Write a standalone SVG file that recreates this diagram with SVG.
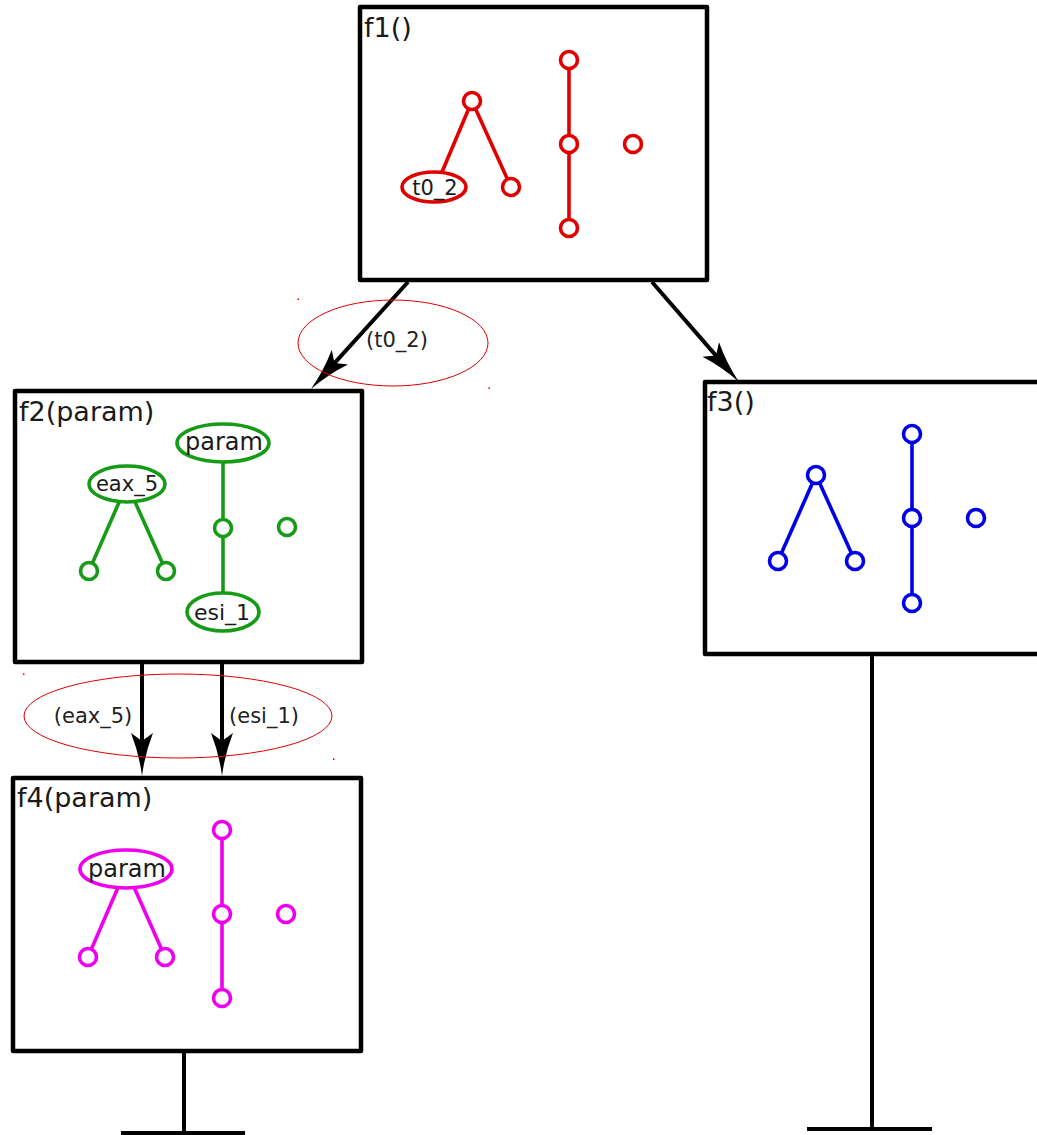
<svg xmlns="http://www.w3.org/2000/svg" width="1037" height="1135" viewBox="0 0 1037 1135">
  <style>
    .box { fill: #ffffff; stroke: #000000; stroke-width: 4.5; stroke-linejoin: round; }
    .title { font-family: "DejaVu Sans", sans-serif; font-size: 27px; fill: #1a1a1a; }
    .lbl { font-family: "DejaVu Sans", sans-serif; fill: #1a1a1a; text-anchor: middle; }
    .elbl { font-family: "DejaVu Sans", sans-serif; font-size: 21px; fill: #222222; text-anchor: middle; }
    .conn { stroke: #000000; stroke-width: 4; fill: none; }
    .stem { stroke: #000000; stroke-width: 4; fill: none; }
    .hl { fill: none; stroke: #e00000; stroke-width: 1; }
    .red { stroke: #e00000; }
    .grn { stroke: #169b16; }
    .blu { stroke: #0000e6; }
    .mag { stroke: #ee00ee; }
    .edge { stroke-width: 3.6; fill: none; }
    .v { fill: #ffffff; stroke-width: 3.6; }
  </style>
  <defs>
    <marker id="dart" viewBox="0 -12 44 24" markerWidth="44" markerHeight="24" refX="8" refY="0" orient="auto" markerUnits="userSpaceOnUse">
      <path d="M43,0 Q20,-3 0,-11 L8,0 L0,11 Q20,3 43,0 Z" fill="#000000"/>
    </marker>
  </defs>

  <!-- connectors between function boxes -->
  <g id="connectors">
    <line class="conn" x1="408" y1="282" x2="334.5" y2="363.1" marker-end="url(#dart)"/>
    <line class="conn" x1="652" y1="282" x2="716" y2="355.6" marker-end="url(#dart)"/>
    <line class="conn" x1="142" y1="662" x2="142" y2="741" marker-end="url(#dart)"/>
    <line class="conn" x1="222" y1="662" x2="222" y2="741" marker-end="url(#dart)"/>
    <ellipse class="hl" cx="393" cy="343" rx="95" ry="43"/>
    <text class="elbl" x="397" y="347">(t0_2)</text>
    <ellipse class="hl" cx="178" cy="716" rx="154" ry="42"/>
    <text class="elbl" x="93" y="723">(eax_5)</text>
    <text class="elbl" x="264" y="723">(esi_1)</text>
    <rect x="297.5" y="298.5" width="1.5" height="1.5" fill="#e00000"/>
    <rect x="488.5" y="387.5" width="1.5" height="1.5" fill="#e00000"/>
    <rect x="23" y="673.5" width="1.5" height="1.5" fill="#e00000"/>
    <rect x="333" y="758.5" width="1.5" height="1.5" fill="#e00000"/>
    <!-- terminal stems -->
    <line class="stem" x1="184" y1="1051" x2="184" y2="1133"/>
    <line class="stem" x1="121" y1="1133" x2="245" y2="1133"/>
    <line class="stem" x1="872" y1="654" x2="872" y2="1129"/>
    <line class="stem" x1="807" y1="1129" x2="932" y2="1129"/>
  </g>

  <!-- f1() -->
  <g id="f1">
    <rect class="box" x="360" y="7" width="347" height="273"/>
    <text class="title" x="364" y="37">f1()</text>
    <g class="red">
      <line class="edge" x1="472" y1="101" x2="442" y2="172"/>
      <line class="edge" x1="472" y1="101" x2="511" y2="187"/>
      <line class="edge" x1="569" y1="60" x2="569" y2="228"/>
      <circle class="v" cx="472" cy="101" r="8.5"/>
      <ellipse class="v" cx="434" cy="187" rx="32" ry="15"/>
      <circle class="v" cx="511" cy="187" r="8.5"/>
      <circle class="v" cx="569" cy="60" r="8.5"/>
      <circle class="v" cx="569" cy="144" r="8.5"/>
      <circle class="v" cx="569" cy="228" r="8.5"/>
      <circle class="v" cx="633" cy="144" r="8.5"/>
    </g>
    <text class="lbl" x="435" y="195" font-size="21">t0_2</text>
  </g>

  <!-- f2(param) -->
  <g id="f2">
    <rect class="box" x="15" y="391" width="347" height="271"/>
    <text class="title" x="19" y="421">f2(param)</text>
    <g class="grn">
      <line class="edge" x1="127" y1="484" x2="89" y2="571"/>
      <line class="edge" x1="127" y1="484" x2="166" y2="571"/>
      <line class="edge" x1="223" y1="443" x2="223" y2="612"/>
      <ellipse class="v" cx="127" cy="484" rx="38" ry="18"/>
      <circle class="v" cx="89" cy="571" r="8.5"/>
      <circle class="v" cx="166" cy="571" r="8.5"/>
      <ellipse class="v" cx="223" cy="443" rx="46" ry="19"/>
      <circle class="v" cx="223" cy="528" r="8.5"/>
      <ellipse class="v" cx="223" cy="612" rx="36" ry="19"/>
      <circle class="v" cx="287" cy="527" r="8.5"/>
    </g>
    <text class="lbl" x="224" y="450" font-size="24">param</text>
    <text class="lbl" x="127" y="491" font-size="21">eax_5</text>
    <text class="lbl" x="222" y="620" font-size="22">esi_1</text>
  </g>

  <!-- f3() -->
  <g id="f3">
    <rect class="box" x="705" y="382" width="350" height="272"/>
    <text class="title" x="707" y="411">f3()</text>
    <g class="blu">
      <line class="edge" x1="816" y1="475" x2="778" y2="561"/>
      <line class="edge" x1="816" y1="475" x2="855" y2="561"/>
      <line class="edge" x1="912" y1="434" x2="912" y2="603"/>
      <circle class="v" cx="816" cy="475" r="8.5"/>
      <circle class="v" cx="778" cy="561" r="8.5"/>
      <circle class="v" cx="855" cy="561" r="8.5"/>
      <circle class="v" cx="912" cy="434" r="8.5"/>
      <circle class="v" cx="912" cy="518" r="8.5"/>
      <circle class="v" cx="912" cy="603" r="8.5"/>
      <circle class="v" cx="976" cy="518" r="8.5"/>
    </g>
  </g>

  <!-- f4(param) -->
  <g id="f4">
    <rect class="box" x="13" y="778" width="348" height="273"/>
    <text class="title" x="17" y="807">f4(param)</text>
    <g class="mag">
      <line class="edge" x1="126" y1="869" x2="88" y2="957"/>
      <line class="edge" x1="126" y1="869" x2="165" y2="957"/>
      <line class="edge" x1="222" y1="830" x2="222" y2="998"/>
      <ellipse class="v" cx="126" cy="869" rx="46" ry="19"/>
      <circle class="v" cx="88" cy="957" r="8.5"/>
      <circle class="v" cx="165" cy="957" r="8.5"/>
      <circle class="v" cx="222" cy="830" r="8.5"/>
      <circle class="v" cx="222" cy="914" r="8.5"/>
      <circle class="v" cx="222" cy="998" r="8.5"/>
      <circle class="v" cx="286" cy="914" r="8.5"/>
    </g>
    <text class="lbl" x="127" y="877" font-size="24">param</text>
  </g>
</svg>
